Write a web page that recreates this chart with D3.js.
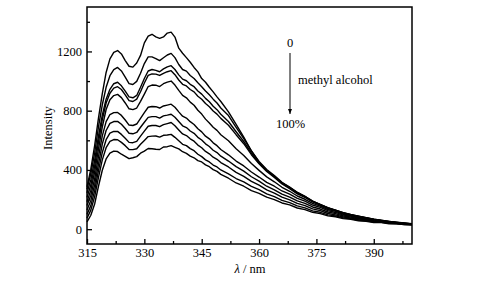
<!DOCTYPE html>
<html>
<head>
<meta charset="utf-8">
<script src="https://cdn.jsdelivr.net/npm/d3@7"></script>
<style>
  body { margin: 0; background: #fff; }
  text { font-family: "Liberation Serif", "Times New Roman", serif; fill: #000; }
</style>
</head>
<body>
<div id="plot"></div>
<script>
// wavelengths (nm)
const wavelengths = [
  315,316,317,318,319,320,321,322,323,324,325,326,327,328,329,330,331,332,333,334,
  335,336,337,338,339,340,341,342,343,344,345,346,347,348,349,350,
  352,354,356,358,360,362,364,366,368,370,372,374,376,378,380,382,384,386,388,390,
  392,394,396,398,400
];

// intensity, 0% -> 100% methyl alcohol
const s0 = [285,405,565,750,915,1058,1150,1194,1206,1183,1138,1100,1094,1122,1173,1258,1303,1316,1298,1288,
  1298,1324,1330,1297,1222,1188,1158,1127,1092,1062,1017,992,958,927,893,862,
  792,708,622,528,452,398,357,313,282,248,221,189,166,144,128,112,99,88,78,68,60,53,47,42,37];
const s1 = [270,374,515,690,840,958,1036,1077,1092,1068,1027,983,977,998,1053,1118,1163,1163,1152,1138,
  1157,1176,1187,1158,1112,1078,1067,1038,1017,988,962,933,907,878,852,818,
  767,688,612,528,457,403,362,316,284,248,222,190,168,145,129,111,98,87,77,67,59,52,46,41,36];
const s2 = [245,334,465,628,770,878,944,982,992,968,932,893,887,903,958,1017,1068,1078,1072,1063,
  1082,1096,1104,1078,1042,1013,1002,978,962,933,912,883,860,830,807,776,
  727,658,592,513,447,396,354,310,279,243,218,187,166,143,127,109,97,86,76,66,58,51,45,40,35];
const s3 = [215,298,426,588,740,852,918,952,962,943,907,868,862,878,928,987,1038,1048,1047,1038,
  1052,1063,1070,1043,1007,978,967,943,927,898,877,848,827,798,777,748,
  702,638,577,503,442,390,350,306,274,238,214,184,163,140,125,107,95,84,74,65,57,50,44,39,34];
const s4 = [185,263,386,540,690,808,874,902,910,888,852,813,807,818,863,912,963,973,972,963,
  982,993,1000,973,937,903,887,858,837,803,777,743,717,688,667,638,
  597,543,497,443,397,353,320,283,256,224,202,174,156,133,120,101,92,79,72,61,56,47,44,37,34];
const s5 = [160,229,340,490,630,726,774,787,788,768,737,703,700,710,748,787,823,828,827,818,
  832,838,844,823,792,763,750,726,707,678,657,628,610,583,564,538,
  502,460,427,386,352,316,290,258,236,208,189,163,147,125,113,95,88,74,69,57,54,44,42,36,33];
const s6 = [130,194,300,440,575,666,714,727,728,708,680,648,644,653,688,722,755,760,760,750,
  765,770,776,756,727,698,686,663,647,620,602,576,558,533,517,493,
  460,422,392,354,324,290,266,237,217,191,174,150,136,116,105,89,82,69,65,54,51,42,40,34,32];
const s7 = [100,159,260,395,518,604,648,660,660,640,614,586,584,593,628,662,695,700,700,692,
  706,713,720,698,670,643,632,610,594,568,550,525,509,486,472,450,
  420,384,357,323,297,266,244,216,198,174,159,137,125,106,97,82,76,64,61,51,49,40,39,33,31];
const s8 = [75,129,220,350,468,550,593,605,604,586,564,538,537,543,573,599,625,628,629,622,
  634,636,640,620,597,573,564,544,530,506,490,468,454,433,420,400,
  374,342,319,289,267,239,220,195,179,157,144,124,114,97,90,76,71,60,57,48,47,39,37,32,30];
const s9 = [50,94,170,290,398,474,513,527,524,506,492,476,482,490,513,527,545,543,540,538,
  555,557,564,553,542,523,512,493,482,463,454,434,422,402,390,370,
  344,312,290,260,242,216,200,177,164,143,132,114,105,90,84,71,67,56,54,45,44,37,36,31,29];

const series = [s0, s1, s2, s3, s4, s5, s6, s7, s8, s9];

const xMajor = [315, 330, 345, 360, 375, 390];
const xMinor = [322.5, 337.5, 352.5, 367.5, 382.5, 397.5];
const yMajor = [0, 400, 800, 1200];
const yMinor = [200, 600, 1000, 1400];

const W = 493, H = 284;
const margin = { left: 87, right: 412, top: 7, bottom: 244 };

const svg = d3.select("#plot").append("svg")
  .attr("width", W)
  .attr("height", H);

const x = d3.scaleLinear().domain([315, 400]).range([margin.left, margin.right]);
const y = d3.scaleLinear().domain([-100, 1500]).range([margin.bottom, margin.top]);

// curves
const line = d3.line()
  .x((d, i) => x(wavelengths[i]))
  .y(d => y(d));

svg.append("g")
  .selectAll("path")
  .data(series)
  .join("path")
    .attr("d", line)
    .attr("fill", "none")
    .attr("stroke", "#000")
    .attr("stroke-width", 1.4)
    .attr("stroke-linejoin", "round");

// axes (ticks pointing inward)
svg.append("g")
  .attr("transform", `translate(0,${margin.bottom})`)
  .call(d3.axisBottom(x).tickValues(xMajor).tickSize(-5).tickPadding(4).tickFormat(d3.format("d")))
  .call(g => g.select(".domain").remove())
  .call(g => g.selectAll("text").attr("font-size", 12.5).style("font-family", "Liberation Serif"));
svg.append("g")
  .attr("transform", `translate(0,${margin.bottom})`)
  .call(d3.axisBottom(x).tickValues(xMinor).tickSize(-3).tickFormat(""))
  .call(g => g.select(".domain").remove());

svg.append("g")
  .attr("transform", `translate(${margin.left},0)`)
  .call(d3.axisLeft(y).tickValues(yMajor).tickSize(-5).tickPadding(5).tickFormat(d3.format("d")))
  .call(g => g.select(".domain").remove())
  .call(g => g.selectAll("text").attr("font-size", 12.5).style("font-family", "Liberation Serif"));
svg.append("g")
  .attr("transform", `translate(${margin.left},0)`)
  .call(d3.axisLeft(y).tickValues(yMinor).tickSize(-3).tickFormat(""))
  .call(g => g.select(".domain").remove());

svg.selectAll(".tick line").attr("stroke", "#000").attr("stroke-width", 1.3);

// frame
svg.append("rect")
  .attr("x", margin.left).attr("y", margin.top)
  .attr("width", margin.right - margin.left).attr("height", margin.bottom - margin.top)
  .attr("fill", "none")
  .attr("stroke", "#000")
  .attr("stroke-width", 1.5);

// axis titles
svg.append("text")
  .attr("transform", `translate(52,128) rotate(-90)`)
  .attr("text-anchor", "middle")
  .attr("font-size", 12.5)
  .text("Intensity");

const xt = svg.append("text")
  .attr("x", 250).attr("y", 273)
  .attr("text-anchor", "middle")
  .attr("font-size", 12.5);
xt.append("tspan").attr("font-style", "italic").text("λ");
xt.append("tspan").text(" / nm");

// annotation
svg.append("defs").append("marker")
  .attr("id", "arrow")
  .attr("viewBox", "0 0 10 10")
  .attr("refX", 10).attr("refY", 5)
  .attr("markerWidth", 5).attr("markerHeight", 7)
  .attr("orient", "auto")
  .append("path")
    .attr("d", "M0,1L10,5L0,9Z")
    .attr("fill", "#000");

svg.append("line")
  .attr("x1", 290).attr("y1", 53)
  .attr("x2", 290).attr("y2", 114)
  .attr("stroke", "#000")
  .attr("stroke-width", 1)
  .attr("marker-end", "url(#arrow)");

svg.append("text").attr("x", 290).attr("y", 47).attr("text-anchor", "middle")
  .attr("font-size", 12.5).text("0");
svg.append("text").attr("x", 298).attr("y", 84)
  .attr("font-size", 12.5).text("methyl alcohol");
svg.append("text").attr("x", 276).attr("y", 128)
  .attr("font-size", 12.5).text("100%");
</script>
</body>
</html>
